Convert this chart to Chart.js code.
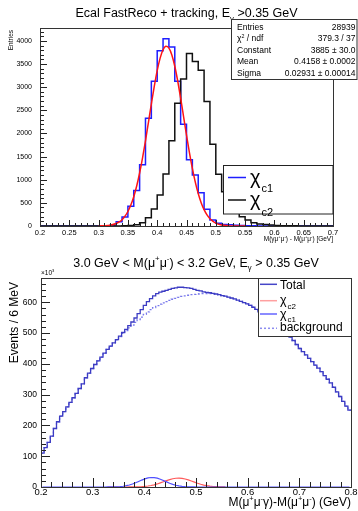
<!DOCTYPE html>
<html>
<head>
<meta charset="utf-8">
<script src="https://cdn.jsdelivr.net/npm/chart.js@4"></script>
<style>
  html, body { margin: 0; padding: 0; background: #fff; }
  #wrap { position: relative; width: 358px; height: 511px; }
  canvas { position: absolute; left: 0; }
  #top-chart { top: 0; }
  #bottom-chart { top: 250px; }
</style>
</head>
<body>
<div id="wrap">
  <canvas id="top-chart" width="358" height="250"></canvas>
  <canvas id="bottom-chart" width="358" height="261"></canvas>
</div>
<script>
'use strict';

// ---- top panel: photon energy spectrum, 0.01 GeV bins from 0.2 ----
const topBinLo = 0.2;
const topBinWidth = 0.01;
const chic1Counts = [0, 0, 0, 0, 0, 0, 0, 0, 0, 0,
    2, 5, 20, 90, 195, 425, 770, 1325, 2330, 3130,
    3790, 4050, 3870, 3130, 2200, 1430, 1100, 720, 360, 130,
    60, 35, 25, 15, 10, 6, 4, 2, 1, 0,
    0, 0, 0, 0, 0, 0, 0, 0, 0, 0];
const chic2Counts = [0, 0, 0, 0, 0, 0, 0, 0, 0, 0,
    0, 0, 0, 2, 5, 10, 25, 72, 180, 368,
    670, 1124, 1845, 2655, 3180, 3728, 3555, 3370, 2690, 1770,
    1120, 742, 480, 310, 200, 130, 72, 45, 30, 20,
    12, 8, 5, 3, 2, 0, 0, 0, 0, 0];
// gaussian fit curve
const fitX = [0.30, 0.31, 0.32, 0.33, 0.335, 0.34, 0.345, 0.35, 0.355, 0.36,
    0.365, 0.37, 0.375, 0.38, 0.385, 0.39, 0.395, 0.40, 0.405, 0.41,
    0.415, 0.42, 0.425, 0.43, 0.435, 0.44, 0.445, 0.45, 0.455, 0.46,
    0.465, 0.47, 0.475, 0.48, 0.485, 0.49, 0.50, 0.51, 0.52, 0.53, 0.55];
const fitY = [2, 6, 19, 54, 87, 137, 210, 313, 452, 634,
    865, 1146, 1474, 1843, 2237, 2637, 3020, 3360, 3630, 3810,
    3884, 3845, 3698, 3454, 3135, 2763, 2365, 1967, 1589, 1246,
    949, 703, 505, 353, 239, 158, 63, 22, 7, 2, 0];
const topXTicks = [0.2, 0.25, 0.3, 0.35, 0.4, 0.45, 0.5, 0.55, 0.6, 0.65, 0.7];
const topYTicks = [0, 500, 1000, 1500, 2000, 2500, 3000, 3500, 4000];
const statsRows = [
    [['Entries']], '28939',
    [['χ'], ['2', 'sup'], [' / ndf']], '379.3 / 37',
    [['Constant']], '3885 ± 30.0',
    [['Mean']], '0.4158 ± 0.0002',
    [['Sigma']], '0.02931 ± 0.00014'
];

// ---- bottom panel: 6 MeV bins from 0.2, counts in units of 10^3 ----
const botBinLo = 0.2;
const botBinWidth = 0.006;
const totalCounts = [110, 128, 145, 165, 190, 212, 230, 245, 260, 275,
    290, 304, 320, 335, 355, 370, 385, 398, 410, 422,
    435, 447, 458, 468, 479, 490, 502, 512, 524, 536,
    549, 563, 576, 590, 602, 612, 621, 628, 633, 636,
    639, 642, 645, 647, 649, 649, 648, 647, 645, 642,
    639, 637, 634, 632, 631, 629, 627, 625, 622, 620,
    617, 614, 611, 607, 603, 599, 595, 590, 584, 577,
    569, 560, 551, 543, 535, 527, 519, 511, 503, 495,
    487, 476, 463, 450, 440, 429, 418, 407, 396, 386,
    375, 362, 350, 338, 324, 309, 294, 278, 263, 250];
const bkgCounts = [110, 128, 145, 165, 190, 212, 230, 245, 260, 275,
    290, 304, 320, 335, 355, 370, 385, 398, 410, 422,
    435, 447, 458, 468, 478, 489, 499, 508, 517, 526,
    535, 544, 552, 561, 569, 576, 583, 589, 594, 598,
    602, 606, 610, 613, 616, 619, 621, 623, 625, 626,
    627, 628, 628, 628, 628, 627, 626, 624, 622, 620,
    617, 614, 611, 607, 603, 599, 595, 590, 584, 577,
    569, 560, 551, 543, 535, 527, 519, 511, 503, 495,
    487, 476, 463, 450, 440, 429, 418, 407, 396, 386,
    375, 362, 350, 338, 324, 309, 294, 278, 263, 250];
const sigStartBin = 21;
const chic1Sig = [0.1, 0.2, 0.4, 0.8, 1.4, 2.5, 4.2, 6.6, 9.8, 13.7,
    18.0, 22.5, 26.5, 29.5, 30.9, 30.6, 28.6, 25.3, 21.1, 16.6,
    12.3, 8.6, 5.7, 3.6, 2.1, 1.2, 0.6, 0.3, 0.1];
const chic2Sig = [0, 0, 0, 0, 0, 0, 0, 0.1, 0.2, 0.4,
    0.7, 1.2, 2.0, 3.2, 4.8, 7.1, 9.9, 13.3, 16.9, 20.7,
    24.1, 26.8, 28.5, 29.0, 28.1, 26.0, 23.0, 19.5, 15.7, 12.1,
    8.9, 6.3, 4.2, 2.7, 1.7, 1.0, 0.5, 0.3, 0.1];
const botXTicks = [0.2, 0.3, 0.4, 0.5, 0.6, 0.7, 0.8];
const botYTicks = [0, 100, 200, 300, 400, 500, 600];

const FONT = '"Liberation Sans", Arial, sans-serif';

// histogram outline: one point per bin edge; 'before' = horizontal first, then vertical
const stepData = (lo, w, counts) => {
    const pts = counts.map((c, i) => ({ x: lo + i * w, y: c }));
    pts.push({ x: lo + counts.length * w, y: counts[counts.length - 1] });
    return pts;
};

const centerData = (lo, w, start, values, nBins, pad) => {
    const pts = [];
    for (let i = 0; i < nBins; i++) {
        const v = values[i - start];
        if (v !== undefined) pts.push({ x: lo + (i + 0.5) * w, y: v });
        else if (pad) pts.push({ x: lo + (i + 0.5) * w, y: 0 });
    }
    return pts;
};

// text with simple super/subscripts
const richText = (ctx, parts, x, y, size, align) => {
    const fontFor = k => `${k ? size * 0.62 : size}px ${FONT}`;
    const widths = parts.map(([t, k]) => { ctx.font = fontFor(k); return ctx.measureText(t).width; });
    const total = widths.reduce((a, b) => a + b, 0);
    let cx = align === 'center' ? x - total / 2 : align === 'right' ? x - total : x;
    ctx.textAlign = 'left';
    ctx.textBaseline = 'alphabetic';
    parts.forEach(([t, k], i) => {
        ctx.font = fontFor(k);
        const dy = k === 'sup' ? -size * 0.42 : k === 'sub' ? size * 0.3 : 0;
        ctx.fillText(t, cx, y + dy);
        cx += widths[i];
    });
};

const line = (ctx, x1, y1, x2, y2) => {
    ctx.beginPath();
    ctx.moveTo(x1, y1);
    ctx.lineTo(x2, y2);
    ctx.stroke();
};

const drawTicks = (ctx, chart, xMajor, xMinorStep, yMajor, yMinorStep, lens) => {
    const { left, right, top, bottom } = chart.chartArea;
    const xs = chart.scales.x;
    const ys = chart.scales.y;
    ctx.strokeStyle = '#222';
    ctx.lineWidth = 1;
    xMajor.forEach(v => {
        const px = Math.round(xs.getPixelForValue(v)) + 0.5;
        line(ctx, px, bottom, px, bottom - lens[0]);
    });
    for (let v = xs.min; v <= xs.max + 1e-9; v += xMinorStep) {
        const px = Math.round(xs.getPixelForValue(v)) + 0.5;
        line(ctx, px, bottom, px, bottom - lens[1]);
    }
    yMajor.forEach(v => {
        const py = Math.round(ys.getPixelForValue(v)) + 0.5;
        line(ctx, left, py, left + lens[2], py);
    });
    for (let v = 0; v <= ys.max; v += yMinorStep) {
        const py = Math.round(ys.getPixelForValue(v)) + 0.5;
        line(ctx, left, py, left + lens[3], py);
    }
    ctx.strokeStyle = '#333';
    ctx.strokeRect(left + 0.5, top + 0.5, right - left, bottom - top);
};

const topDecor = {
    id: 'top_decor',
    afterDraw: (chart) => {
        const ctx = chart.ctx;
        const { left, right, top } = chart.chartArea;
        ctx.save();
        drawTicks(ctx, chart, topXTicks, 0.01, topYTicks, 100, [6, 3, 7, 4]);
        ctx.fillStyle = '#000';
        richText(ctx, [['Ecal FastReco + tracking, E'], ['γ', 'sub'], [' >0.35 GeV']], (left + right) / 2, 17, 12.5, 'center');
        richText(ctx, [['M(γμ'], ['+', 'sup'], ['μ'], ['-', 'sup'], [') - M(μ'], ['+', 'sup'], ['μ'], ['-', 'sup'], [') [GeV]']], right, 240.5, 6.5, 'right');
        ctx.save();
        ctx.translate(12.5, top + 2);
        ctx.rotate(-Math.PI / 2);
        ctx.textAlign = 'right';
        ctx.font = `6.5px ${FONT}`;
        ctx.fillText('Entries', 0, 0);
        ctx.restore();

        // stats box
        ctx.fillStyle = '#fff';
        ctx.fillRect(231, 19, 126, 60);
        ctx.strokeStyle = '#333';
        ctx.strokeRect(231.5, 19.5, 125.5, 60);
        ctx.fillStyle = '#000';
        for (let r = 0; r < statsRows.length / 2; r++) {
            const y = 29.5 + r * 11.6;
            richText(ctx, statsRows[2 * r], 237, y, 8.5, 'left');
            richText(ctx, [[statsRows[2 * r + 1]]], 355.5, y, 8.5, 'right');
        }

        // legend
        ctx.fillStyle = '#fff';
        ctx.fillRect(223, 165, 110, 49);
        ctx.strokeStyle = '#222';
        ctx.strokeRect(223.5, 165.5, 109.5, 48.5);
        ctx.lineWidth = 1.5;
        ctx.strokeStyle = 'rgb(30,30,255)';
        line(ctx, 228, 177.5, 246, 177.5);
        ctx.strokeStyle = '#111';
        line(ctx, 228, 200, 246, 200);
        ctx.fillStyle = '#000';
        richText(ctx, [['χ']], 250, 184, 20, 'left');
        richText(ctx, [['c1']], 261.5, 192, 11, 'left');
        richText(ctx, [['χ']], 250, 206, 20, 'left');
        richText(ctx, [['c2']], 261.5, 216, 11, 'left');
        ctx.restore();
    }
};

const botDecor = {
    id: 'bottom_decor',
    afterDraw: (chart) => {
        const ctx = chart.ctx;
        const { left, right, top } = chart.chartArea;
        ctx.save();
        drawTicks(ctx, chart, botXTicks, 0.02, botYTicks, 20, [9, 5, 9, 5]);
        ctx.fillStyle = '#000';
        richText(ctx, [['3.0 GeV < M(μ'], ['+', 'sup'], ['μ'], ['-', 'sup'], [') < 3.2 GeV, E'], ['γ', 'sub'], [' > 0.35 GeV']], (left + right) / 2, 16.5, 12.5, 'center');
        richText(ctx, [['M(μ'], ['+', 'sup'], ['μ'], ['-', 'sup'], ['γ)-M(μ'], ['+', 'sup'], ['μ'], ['-', 'sup'], [') (GeV)']], right, 256, 12, 'right');
        richText(ctx, [['×10'], ['3', 'sup']], left, top - 3, 6.5, 'left');
        ctx.save();
        ctx.translate(17.5, top + 4);
        ctx.rotate(-Math.PI / 2);
        ctx.textAlign = 'right';
        ctx.font = `12px ${FONT}`;
        ctx.fillText('Events / 6 MeV', 0, 0);
        ctx.restore();

        // legend
        const lx = 258;
        ctx.fillStyle = '#fff';
        ctx.fillRect(lx, top, right - lx, 58);
        ctx.strokeStyle = '#333';
        ctx.lineWidth = 1;
        ctx.strokeRect(lx + 0.5, top + 0.5, right - lx, 58);
        const rows = [
            { y: 34.3, color: 'rgb(70,70,200)', dash: [] },
            { y: 50.7, color: 'rgb(255,160,160)', dash: [] },
            { y: 64, color: 'rgb(100,100,255)', dash: [] },
            { y: 78.3, color: 'rgb(140,140,240)', dash: [2, 2] }
        ];
        ctx.lineWidth = 1.5;
        rows.forEach(r => {
            ctx.strokeStyle = r.color;
            ctx.setLineDash(r.dash);
            line(ctx, 260, r.y, 277, r.y);
        });
        ctx.setLineDash([]);
        ctx.fillStyle = '#000';
        richText(ctx, [['Total']], 280, 38.5, 12, 'left');
        richText(ctx, [['χ']], 280, 53.5, 12.5, 'left');
        richText(ctx, [['c2']], 287.5, 59, 8, 'left');
        richText(ctx, [['χ']], 280, 67.5, 12.5, 'left');
        richText(ctx, [['c1']], 287.5, 72, 8, 'left');
        richText(ctx, [['background']], 280, 81, 12, 'left');
        ctx.restore();
    }
};

const baseOptions = (xMin, xMax, xTicks, yMax, yTicks, sizes) => ({
    responsive: false,
    animation: false,
    devicePixelRatio: 1,
    events: [],
    layout: { padding: { top: 28, right: sizes.right, left: 0, bottom: 0 } },
    plugins: { legend: { display: false }, tooltip: { enabled: false } },
    elements: { point: { radius: 0 } },
    scales: {
        x: {
            type: 'linear',
            min: xMin,
            max: xMax,
            afterBuildTicks: scale => { scale.ticks = xTicks.map(v => ({ value: v })); },
            afterFit: scale => { scale.height = sizes.xh; },
            grid: { display: false, drawTicks: false },
            border: { display: false },
            ticks: {
                padding: sizes.xpad,
                maxRotation: 0,
                autoSkip: false,
                color: '#000',
                font: { family: FONT, size: sizes.xfont },
                callback: v => String(+v.toFixed(2))
            }
        },
        y: {
            type: 'linear',
            min: 0,
            max: yMax,
            afterBuildTicks: scale => { scale.ticks = yTicks.map(v => ({ value: v })); },
            afterFit: scale => { scale.width = sizes.yw; },
            grid: { display: false, drawTicks: false },
            border: { display: false },
            ticks: {
                padding: sizes.ypad,
                color: '#000',
                font: { family: FONT, size: sizes.yfont },
                callback: v => String(v)
            }
        }
    }
});

new Chart(document.getElementById('top-chart'), {
    type: 'line',
    data: {
        datasets: [{
            label: 'fit',
            data: fitX.map((x, i) => ({ x: x, y: fitY[i] })),
            borderColor: 'rgb(255,20,20)',
            borderWidth: 1.5,
            cubicInterpolationMode: 'monotone'
        }, {
            label: 'χc2',
            data: stepData(topBinLo, topBinWidth, chic2Counts),
            borderColor: '#111',
            borderWidth: 1.5,
            stepped: 'before'
        }, {
            label: 'χc1',
            data: stepData(topBinLo, topBinWidth, chic1Counts),
            borderColor: 'rgb(30,30,255)',
            borderWidth: 1.5,
            stepped: 'before'
        }]
    },
    options: baseOptions(0.2, 0.7, topXTicks, 4281, topYTicks,
        { right: 25, xh: 24, yw: 40, xpad: 2, ypad: 8, xfont: 7.5, yfont: 7 }),
    plugins: [topDecor]
});

const nBot = totalCounts.length;
new Chart(document.getElementById('bottom-chart'), {
    type: 'line',
    data: {
        datasets: [{
            label: 'Total',
            data: stepData(botBinLo, botBinWidth, totalCounts),
            borderColor: 'rgb(60,60,195)',
            borderWidth: 1.3,
            stepped: 'before'
        }, {
            label: 'background',
            data: stepData(botBinLo, botBinWidth, bkgCounts),
            borderColor: 'rgb(120,120,235)',
            borderWidth: 1.3,
            borderDash: [2, 2],
            stepped: 'before'
        }, {
            label: 'χc1',
            data: centerData(botBinLo, botBinWidth, sigStartBin, chic1Sig, nBot, true),
            borderColor: 'rgb(80,80,255)',
            borderWidth: 1.2
        }, {
            label: 'χc2',
            data: centerData(botBinLo, botBinWidth, sigStartBin, chic2Sig, nBot, false),
            borderColor: 'rgb(255,90,90)',
            borderWidth: 1.2
        }]
    },
    options: baseOptions(0.2, 0.8, botXTicks, 679, botYTicks,
        { right: 7, xh: 24, yw: 41, xpad: 0, ypad: 4, xfont: 9.5, yfont: 8.5 }),
    plugins: [botDecor]
});
</script>
</body>
</html>
